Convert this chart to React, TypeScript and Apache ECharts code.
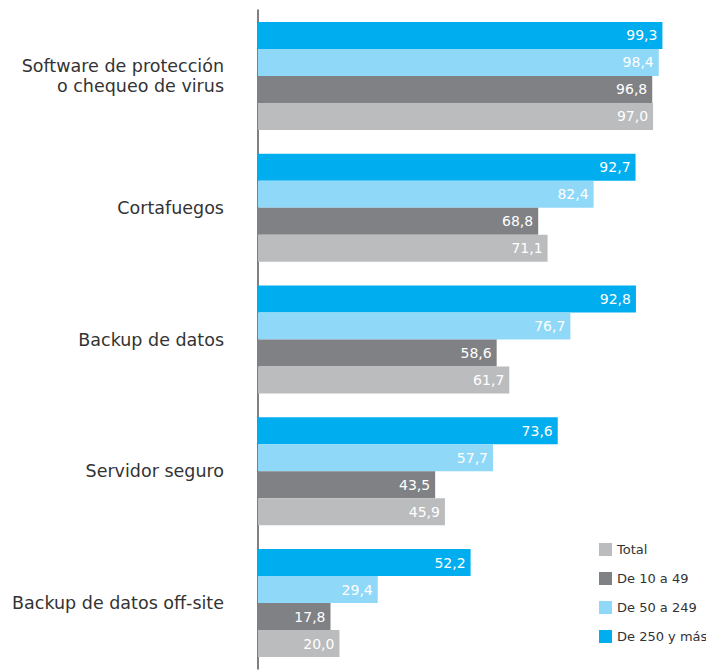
import React, { useEffect, useRef } from "react";
import * as echarts from "echarts";

const categories = [
  "Software de protección\no chequeo de virus",
  "Cortafuegos",
  "Backup de datos",
  "Servidor seguro",
  "Backup de datos off-site",
];
const total = [97.0, 71.1, 61.7, 45.9, 20.0];
const de10a49 = [96.8, 68.8, 58.6, 43.5, 17.8];
const de50a249 = [98.4, 82.4, 76.7, 57.7, 29.4];
const de250 = [99.3, 92.7, 92.8, 73.6, 52.2];

const seriesDefs = [
  { name: "De 250 y más", data: de250, color: "#00aeef" },
  { name: "De 50 a 249", data: de50a249, color: "#8fd8f8" },
  { name: "De 10 a 49", data: de10a49, color: "#808184" },
  { name: "Total", data: total, color: "#bbbcbe" },
];
const legendOrder = ["Total", "De 10 a 49", "De 50 a 249", "De 250 y más"];

const FONT = "'DejaVu Sans', sans-serif";

export default function App() {
  const ref = useRef<HTMLDivElement>(null);
  useEffect(() => {
    document.body.style.margin = "0";
    if (!ref.current) return;
    const chart = echarts.init(ref.current, null, { renderer: "svg" });
    chart.setOption({
      animation: false,
      backgroundColor: "#ffffff",
      grid: { left: 258, right: 0, top: 10, bottom: 3, containLabel: false },
      xAxis: {
        type: "value",
        min: 0,
        max: 110,
        show: false,
        splitLine: { show: false },
      },
      yAxis: {
        type: "category",
        data: categories,
        inverse: true,
        axisTick: { show: false },
        axisLine: { show: true, lineStyle: { color: "#555555", width: 1.5 } },
        axisLabel: {
          margin: 34,
          fontSize: 17.5,
          lineHeight: 20.5,
          color: "#333333",
          fontFamily: FONT,
          align: "right",
        },
      },
      legend: {
        data: legendOrder,
        orient: "vertical",
        left: 594,
        top: 538,
        itemWidth: 13,
        itemHeight: 13,
        itemGap: 16,
        icon: "rect",
        textStyle: { fontSize: 13, color: "#333333", fontFamily: FONT },
      },
      series: seriesDefs.map((s) => ({
        name: s.name,
        type: "bar",
        data: s.data,
        barWidth: 27,
        barGap: "0%",
        itemStyle: { color: s.color },
        label: {
          show: true,
          position: "insideRight",
          distance: 5,
          color: "#ffffff",
          fontSize: 14,
          fontFamily: FONT,
          formatter: (p: any) => Number(p.value).toFixed(1).replace(".", ","),
        },
      })),
    });
    return () => chart.dispose();
  }, []);
  return <div ref={ref} style={{ width: 706, height: 672 }} />;
}
